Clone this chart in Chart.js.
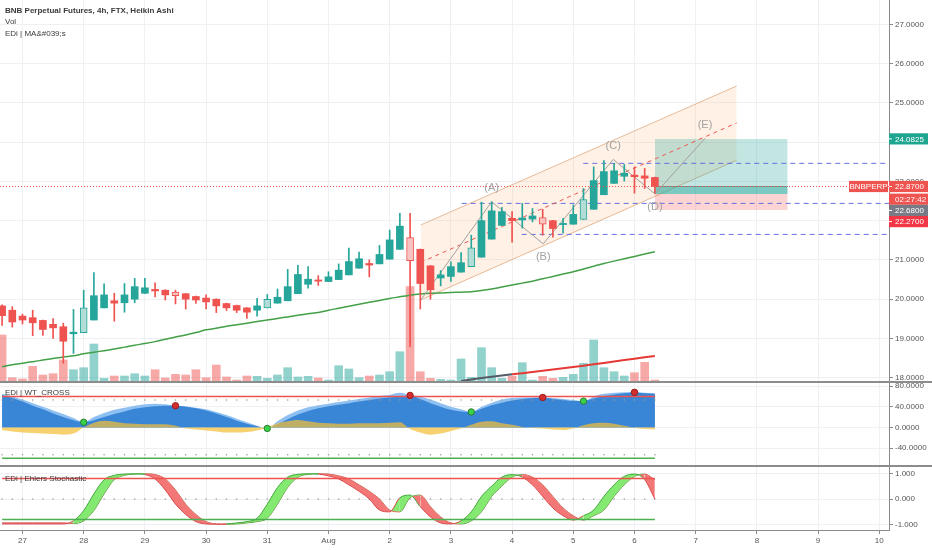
<!DOCTYPE html>
<html>
<head>
<meta charset="utf-8">
<script src="https://cdn.jsdelivr.net/npm/chart.js@4.4.0/dist/chart.umd.min.js"></script>
<style>
html,body{margin:0;padding:0;background:#fff;}
#wrap{position:relative;width:932px;height:550px;overflow:hidden;}
#c{position:absolute;left:0;top:0;}
.lbl{position:absolute;left:5px;font-family:'Liberation Sans',Arial,sans-serif;font-size:8px;color:#3a3a3a;white-space:nowrap;line-height:12px;}
</style>
</head>
<body>
<div id="wrap">
<canvas id="c" width="932" height="550" style="width:932px;height:550px"></canvas>
<div class="lbl" id="t1" style="top:5px;font-weight:bold;"></div>
<div class="lbl" id="t2" style="top:16px;"></div>
<div class="lbl" id="t3" style="top:28px;"></div>
<div class="lbl" id="t4" style="top:387px;"></div>
<div class="lbl" id="t5" style="top:473px;"></div>
</div>
<script>
// ---------- texts ----------
const legendTexts = ['BNB Perpetual Futures, 4h, FTX, Heikin Ashi', 'Vol', 'EDi | MA&#039;s', 'EDi | WT_CROSS', 'EDi | Ehlers Stochastic'];
const dayLabels = ['27','28','29','30','31','Aug','2','3','4','5','6','7','8','9','10'];

// ---------- candle timeline (4h candles, day 0 = Jul 27 00:00) ----------
const firstCandleDay = -2 / 6;
const barsPerDay = 6;
const viewStartDay = -0.3676;
const viewEndDay = 14.159;

// ---------- Heikin Ashi candles ----------
const openP  = [19.83,19.72,19.57,19.53,19.46,19.36,19.30,19.12,19.15,19.47,19.78,19.96,19.91,20.00,20.15,20.25,20.23,20.18,20.14,20.07,20.03,20.00,19.89,19.84,19.78,19.72,19.78,19.90,19.96,20.14,20.38,20.49,20.45,20.50,20.62,20.79,20.91,20.90,21.02,21.27,21.57,21.27,20.85,20.54,20.58,20.69,20.83,21.07,21.53,21.88,22.06,22.02,22.04,22.08,22.00,21.90,21.91,22.03,22.29,22.66,22.95,23.13,23.16,23.14,23.10];
const highP  = [19.86,19.81,19.62,19.72,19.47,19.51,19.39,19.74,20.23,20.68,20.39,20.15,20.40,20.53,20.53,20.42,20.24,20.23,20.15,20.08,20.11,20.01,19.90,19.85,19.79,20.02,20.12,20.26,20.76,20.86,20.83,20.60,20.70,20.90,21.30,21.20,21.00,21.37,21.76,22.19,22.19,21.28,20.86,20.73,20.95,21.19,21.63,22.47,22.48,22.34,22.23,22.44,22.31,22.29,22.01,22.06,22.40,22.82,23.37,23.53,23.46,23.43,23.37,23.33,23.11];
const lowP   = [19.33,19.29,19.37,19.07,19.08,19.00,18.37,18.62,19.15,19.47,19.78,19.44,19.67,19.91,20.15,20.06,19.98,19.88,19.75,19.89,19.75,19.66,19.71,19.66,19.51,19.57,19.78,19.90,19.96,20.14,20.28,20.35,20.45,20.50,20.62,20.79,20.57,20.90,21.02,21.27,18.79,19.75,20.00,20.34,20.45,20.69,20.83,21.07,21.53,21.88,21.45,21.81,21.97,21.63,21.58,21.68,21.91,22.03,22.29,22.66,22.95,23.01,22.70,22.82,22.70];
const closeP = [19.58,19.42,19.47,19.40,19.23,19.27,18.93,19.16,19.78,20.09,20.11,19.90,20.11,20.32,20.29,20.21,20.11,20.09,20.00,19.98,19.93,19.83,19.78,19.72,19.67,19.83,20.00,20.05,20.32,20.63,20.51,20.46,20.57,20.74,20.96,21.03,20.87,21.14,21.51,21.86,20.98,20.40,20.24,20.62,20.83,20.93,21.31,22.00,22.25,22.23,22.00,22.07,22.12,21.91,21.80,21.93,22.16,22.54,23.02,23.25,23.27,23.21,23.12,23.08,22.87];
const paleCandles = [8,17,26,40,46,53,57];

// ---------- volume (thousands) and its MA ----------
const volume = [46,3.3,2,14.7,6,7.3,21,11.3,13.3,37,2.7,5,5,7.3,5,11.3,3,6.7,6,11.3,3.3,16,4,1,5,4.7,2.7,6,13.3,4,4.7,3,1,15.3,12,3.3,5,6,9.3,29.3,94.3,9.3,2.7,1.7,1,22,3.7,33.3,13.3,2.7,5,18.3,1,4.7,2.7,3.7,6.7,17.7,41,13.3,9.3,5,8.3,18.7,1];
const volMAStart = 45;
const volMA = [0,1.5,3,4.3,5.5,6.7,7.8,9,10.3,11.5,12.8,14,15.3,16.7,18,19.5,21,22.3,23.7,25];

// ---------- EDi MA ----------
const maLine = [18.28,18.33,18.37,18.41,18.45,18.49,18.53,18.56,18.61,18.65,18.69,18.73,18.78,18.83,18.87,18.92,18.98,19.04,19.09,19.15,19.22,19.26,19.31,19.35,19.39,19.43,19.47,19.51,19.55,19.59,19.63,19.66,19.72,19.77,19.82,19.87,19.92,19.97,20.02,20.06,20.10,20.13,20.15,20.16,20.17,20.18,20.19,20.22,20.26,20.31,20.36,20.41,20.46,20.52,20.58,20.64,20.70,20.77,20.84,20.91,20.97,21.03,21.09,21.15,21.21];

// ---------- WT_CROSS ----------
const wtLight = [65,60,54,47,40,33,26,18,10,20,28,34,38,42,45,46,45,42,41,38,35,30,24,17,10,3,-2,12,24,33,39,43,46,49,52,55,58,61,63,67,62,60,54,47,40,35,30,40,48,54,57,58,58,58,57,55,53,51,60,65,67,68,68,67,66];
const wtDark  = [63,57,50,42,35,27,20,14,10,14,20,26,31,36,39,41,42,42,40,37,33,27,20,13,7,2,-2,6,16,25,32,37,41,44,47,50,53,56,58,60,62,55,47,40,34,31,30,36,43,48,52,55,57,58,55,53,51,51,56,61,64,66,68,66,65];
const wtMom   = [-5,-8,-10,-11,-12,-13,-14,-12,0,9,13,11,8,7,6,6,6,3,-2,-4,-6,-8,-10,-10,-9,-6,0,8,12,14.5,12,9,8,7,7,8,8,8,9,10,-3,-10,-14,-12,-7,-2,5,11,12,8,5,1,-1,-2,-4,-5,-2,4,8,9,7,3,-1,-3,-4];
const crossUp = [8,26,46,57];
const crossDown = [17,40,53,62];
const wtLevels = {ob: 60, obDots: 53, osDots: -53, os: -60};

// ---------- Ehlers Stochastic ----------
const stFast = [-0.97,-0.97,-0.97,-0.97,-0.97,-0.97,-0.97,-0.85,-0.45,0.2,0.75,0.92,0.97,0.98,0.95,0.78,0.35,-0.2,-0.6,-0.88,-0.97,-0.98,-0.97,-0.93,-0.88,-0.75,-0.2,0.45,0.85,0.96,0.98,0.97,0.9,0.78,0.55,0.3,0.0,-0.43,-0.5,0.05,0.15,-0.3,-0.7,-0.93,-0.97,-0.85,-0.5,0.1,0.5,0.85,0.95,0.85,0.55,0.1,-0.35,-0.65,-0.82,-0.65,-0.43,0.1,0.55,0.88,0.97,0.75,0.0];
const stSlow = [-0.93,-0.93,-0.93,-0.93,-0.93,-0.93,-0.93,-0.95,-0.85,-0.45,0.2,0.75,0.92,0.97,0.98,0.95,0.78,0.35,-0.2,-0.6,-0.88,-0.97,-0.98,-0.97,-0.93,-0.88,-0.75,-0.2,0.45,0.85,0.96,0.98,0.97,0.9,0.78,0.55,0.3,0.0,-0.43,-0.5,0.05,0.15,-0.3,-0.7,-0.93,-0.97,-0.85,-0.5,0.1,0.5,0.85,0.95,0.85,0.55,0.1,-0.35,-0.65,-0.82,-0.65,-0.43,0.1,0.55,0.88,0.97,0.75];
const stLevels = {upper: 0.8, mid: 0, lower: -0.8};

// ---------- drawings (day, price) ----------
const channelDays = [6.507, 11.67];
const channelTop = [21.89, 25.43];
const channelBottom = [19.98, 23.54];
const channelMid = [20.94, 24.49];
const waveNames = ['', '(A)', '(B)', '(C)', '(D)', '(E)'];
const waveDays = [6.507, 7.667, 8.51, 9.653, 10.335, 11.153];
const wavePrices = [19.98, 22.48, 21.41, 23.56, 22.68, 24.10];
const levelPrices = [23.46, 22.44, 21.65];
const levelStartDays = [9.163, 7.176, 8.157];
const positionDays = [10.335, 12.503];
const positionTarget = 24.0825, positionEntry = 22.68, positionStop = 22.27;
const priceTicks = [18,19,20,21,22,23,24,25,26,27];
const wtTicks = [-40,0,40,80];
const stTicks = [-1,0,1];
const priceTags = [
  {value: 24.0825, text: '24.0825', kind: 'target'},
  {value: 22.87, text: '22.8700', kind: 'last', symbol: 'BNBPERP', countdown: '02:27:42'},
  {value: 22.68, text: '22.6800', kind: 'entry'},
  {value: 22.27, text: '22.2700', kind: 'stop'}
];

// ---------- build ----------
['t1','t2','t3','t4','t5'].forEach((id, k) => { document.getElementById(id).textContent = legendTexts[k]; });

const N = closeP.length;
const xs = closeP.map((_, i) => firstCandleDay + i / barsPerDay);
const GREEN = '#26a69a', RED = '#ef5350';
const up = i => closeP[i] >= openP[i];
const pale = new Set(paleCandles);
const bodyFill = xs.map((_, i) => pale.has(i) ? (up(i) ? '#b2ddd7' : '#f8c3c2') : (up(i) ? GREEN : RED));
const bodyEdge = xs.map((_, i) => up(i) ? GREEN : RED);
const bodyBorderW = xs.map((_, i) => pale.has(i) ? 1 : 0);
const volFill = xs.map((_, i) => up(i) ? 'rgba(38,166,154,0.5)' : 'rgba(239,83,80,0.5)');

const pts = arr => arr.map((v, i) => ({x: xs[i], y: v}));
const seg2 = (days, vals) => [{x: days[0], y: vals[0]}, {x: days[1], y: vals[1]}];
const lastIdx = N - 1;
const flat = v => [{x: xs[0], y: v}, {x: xs[lastIdx], y: v}];
const dots = v => xs.map(x => ({x, y: v}));

const line = (o) => Object.assign({type: 'line', pointRadius: 0, borderWidth: 1, fill: false, tension: 0}, o);

const datasets = [];
const add = d => { datasets.push(d); return datasets.length - 1; };

// price pane
add({type: 'bar', yAxisID: 'y', order: 1, grouped: false, barThickness: 7, minBarLength: 1,
  data: xs.map((x, i) => ({x, y: [Math.min(openP[i], closeP[i]), Math.max(openP[i], closeP[i])]})),
  backgroundColor: bodyFill, borderColor: bodyEdge, borderWidth: bodyBorderW, borderSkipped: false});
add({type: 'bar', yAxisID: 'y', order: 2, grouped: false, barThickness: 1,
  data: xs.map((x, i) => ({x, y: [lowP[i], highP[i]]})), backgroundColor: bodyEdge});
add(line({yAxisID: 'y', order: 6, data: pts(maLine), borderColor: '#43a047', borderWidth: 1.5, cubicInterpolationMode: 'monotone'}));
add({type: 'bar', yAxisID: 'vol', order: 9, grouped: false, barThickness: 8,
  data: xs.map((x, i) => ({x, y: volume[i]})), backgroundColor: volFill});
add(line({yAxisID: 'vol', order: 7, data: volMA.map((v, k) => ({x: xs[volMAStart + k], y: v})), borderWidth: 2,
  segment: {borderColor: ctx => (ctx.p0DataIndex < 5 ? '#555b66' : '#e53935')}}));
const chTop = add(line({yAxisID: 'y', order: 12, data: seg2(channelDays, channelTop), borderColor: 'rgba(222,170,130,0.8)'}));
add(line({yAxisID: 'y', order: 12, data: seg2(channelDays, channelBottom), borderColor: 'rgba(222,170,130,0.8)'}));
datasets[chTop].fill = {target: chTop + 1};
datasets[chTop].backgroundColor = 'rgba(255,160,80,0.15)';
add(line({yAxisID: 'y', order: 4, data: seg2(channelDays, channelMid), borderColor: '#ef5350', borderDash: [4, 4]}));
add(line({yAxisID: 'y', order: 3, data: waveDays.map((d, k) => ({x: d, y: wavePrices[k]})), borderColor: '#a0a0a0'}));
levelPrices.forEach((p, k) => add(line({yAxisID: 'y', order: 4, data: [{x: levelStartDays[k], y: p}, {x: viewEndDay, y: p}], borderColor: '#6470e0', borderDash: [5, 4]})));
const posT = add(line({yAxisID: 'y', order: 10, data: seg2(positionDays, [positionTarget, positionTarget]), borderWidth: 0}));
const posE = add(line({yAxisID: 'y', order: 10, data: seg2(positionDays, [positionEntry, positionEntry]), borderWidth: 0}));
const posS = add(line({yAxisID: 'y', order: 10, data: seg2(positionDays, [positionStop, positionStop]), borderWidth: 0}));
const posC = add(line({yAxisID: 'y', order: 10, data: seg2(positionDays, [closeP[lastIdx], closeP[lastIdx]]), borderWidth: 1, borderColor: 'rgba(120,120,120,0.8)'}));
datasets[posT].fill = {target: posE}; datasets[posT].backgroundColor = 'rgba(38,166,154,0.28)';
datasets[posE].fill = {target: posS}; datasets[posE].backgroundColor = 'rgba(239,83,80,0.25)';
datasets[posC].fill = {target: posE}; datasets[posC].backgroundColor = 'rgba(38,166,154,0.45)';
add(line({yAxisID: 'y', order: 0, data: [{x: viewStartDay, y: closeP[lastIdx]}, {x: viewEndDay, y: closeP[lastIdx]}], borderColor: '#ef5350', borderDash: [1, 2]}));

// WT pane
add(line({yAxisID: 'wt', order: 22, data: pts(wtLight), borderWidth: 0, fill: 'origin', backgroundColor: '#8fc0f2', cubicInterpolationMode: 'monotone'}));
add(line({yAxisID: 'wt', order: 21, data: pts(wtDark), borderWidth: 0, fill: 'origin', backgroundColor: '#3a86d6', cubicInterpolationMode: 'monotone'}));
add(line({yAxisID: 'wt', order: 20, data: pts(wtMom), borderWidth: 0, fill: 'origin', backgroundColor: 'rgba(244,190,55,0.72)', cubicInterpolationMode: 'monotone'}));
add(line({yAxisID: 'wt', order: 15, data: flat(wtLevels.ob), borderColor: '#ef5350', borderWidth: 1.5}));
add(line({yAxisID: 'wt', order: 15, data: flat(wtLevels.os), borderColor: '#4caf50', borderWidth: 1.5}));
add(line({yAxisID: 'wt', order: 16, data: dots(wtLevels.obDots), showLine: false, pointRadius: 0.8, pointBorderWidth: 0, pointBackgroundColor: '#9a9a9a'}));
add(line({yAxisID: 'wt', order: 16, data: dots(wtLevels.osDots), showLine: false, pointRadius: 0.8, pointBorderWidth: 0, pointBackgroundColor: '#9a9a9a'}));
add(line({yAxisID: 'wt', order: 14, data: crossUp.map(i => ({x: xs[i], y: wtDark[i]})), showLine: false, pointRadius: 3.2, pointBackgroundColor: '#39d04a', pointBorderColor: '#2e7d32', pointBorderWidth: 1}));
add(line({yAxisID: 'wt', order: 14, data: crossDown.map(i => ({x: xs[i], y: wtDark[i]})), showLine: false, pointRadius: 3.2, pointBackgroundColor: '#d32f2f', pointBorderColor: '#9a1b1b', pointBorderWidth: 1}));

// Stochastic pane
const segCol = ctx => (stFast[ctx.p0DataIndex] >= stSlow[ctx.p0DataIndex] ? '#3fa83a' : '#d94a4a');
const sf = add(line({yAxisID: 'st', order: 30, data: pts(stFast), cubicInterpolationMode: 'monotone', segment: {borderColor: segCol}}));
add(line({yAxisID: 'st', order: 30, data: pts(stSlow), cubicInterpolationMode: 'monotone', segment: {borderColor: segCol}}));
datasets[sf].fill = {target: sf + 1, above: 'rgba(125,232,105,0.95)', below: 'rgba(242,112,112,0.95)'};
add(line({yAxisID: 'st', order: 29, data: flat(stLevels.upper), borderColor: '#ef5350', borderWidth: 1.5}));
add(line({yAxisID: 'st', order: 29, data: flat(stLevels.lower), borderColor: '#4caf50', borderWidth: 1.5}));
add(line({yAxisID: 'st', order: 31, data: dots(stLevels.mid), showLine: false, pointRadius: 0.8, pointBorderWidth: 0, pointBackgroundColor: '#9a9a9a'}));

// ---------- plugin: separators, wave labels, price tags ----------
const overlay = {
  id: 'overlay',
  afterDatasetsDraw(chart) {
    const c = chart.ctx, y = chart.scales.y, x = chart.scales.x;
    c.save();
    c.font = "11px 'Liberation Sans', Arial, sans-serif";
    c.fillStyle = '#a3a3a3';
    c.textAlign = 'center'; c.textBaseline = 'middle';
    waveNames.forEach((t, k) => {
      if (!t) return;
      const px = x.getPixelForValue(waveDays[k]);
      const py = y.getPixelForValue(wavePrices[k]);
      const dir = (k % 2 === 1) ? -1 : 1;
      c.fillText(t, px, py + dir * 13.5);
    });
    c.restore();
  },
  afterDraw(chart) {
    const c = chart.ctx, y = chart.scales.y;
    const W = chart.width;
    c.save();
    c.strokeStyle = '#8c8c8c'; c.lineWidth = 2;
    ['wt', 'st'].forEach(id => {
      const t = Math.round(chart.scales[id].top);
      c.beginPath(); c.moveTo(0, t); c.lineTo(W, t); c.stroke();
    });
    // tags
    const colors = {target: '#1ea58f', last: '#ef5350', entry: '#787b86', stop: '#f23645'};
    const ax = chart.scales.y.left;
    const h = 11.2, w = 39;
    c.font = "8px 'Liberation Sans', Arial, sans-serif";
    c.textBaseline = 'middle';
    let prevBottom = -1e9;
    const sorted = priceTags.slice().sort((a, b) => b.value - a.value);
    sorted.forEach(tag => {
      let top = Math.max(y.getPixelForValue(tag.value) - h / 2, prevBottom);
      const col = colors[tag.kind];
      c.fillStyle = col; c.fillRect(ax, top, w, h);
      c.fillStyle = '#fff'; c.textAlign = 'left';
      c.fillText(tag.text, ax + 6, top + h / 2 + 0.5);
      c.strokeStyle = '#ffffff'; c.lineWidth = 1;
      c.beginPath(); c.moveTo(ax, top + h / 2); c.lineTo(ax + 3, top + h / 2); c.stroke();
      if (tag.symbol) {
        c.fillStyle = col; c.fillRect(ax - 40, top, 39, h);
        c.fillStyle = '#fff'; c.textAlign = 'center';
        c.fillText(tag.symbol, ax - 20.5, top + h / 2 + 0.5);
      }
      prevBottom = top + h;
      if (tag.countdown) {
        const t2 = prevBottom + 1.5;
        c.fillStyle = col; c.fillRect(ax, t2, w, h);
        c.fillStyle = '#fff'; c.textAlign = 'left';
        c.fillText(tag.countdown, ax + 6, t2 + h / 2 + 0.5);
        prevBottom = t2 + h;
      }
    });
    c.restore();
  }
};

Chart.defaults.font.family = "'Liberation Sans', Arial, sans-serif";
Chart.defaults.font.size = 8;
Chart.defaults.color = '#555';

const noPad = s => { s.paddingTop = 0; s.paddingBottom = 0; s.paddingLeft = 0; s.paddingRight = 0; };

const yAxis = (o) => Object.assign({
  type: 'linear', position: 'right', stack: 'panes',
  grid: {color: '#eef0f4', tickLength: 4, tickColor: '#8a8a8a'},
  border: {color: '#8a8a8a', width: 1},
  afterFit: s => { s.width = 43; noPad(s); }
}, o);

new Chart(document.getElementById('c'), {
  type: 'line',
  data: {datasets},
  plugins: [overlay],
  options: {
    responsive: false,
    animation: false,
    parsing: true,
    layout: {padding: 0, autoPadding: false},
    plugins: {legend: {display: false}, tooltip: {enabled: false}},
    scales: {
      x: {
        type: 'linear', min: viewStartDay, max: viewEndDay, offset: false,
        grid: {offset: false, color: '#eef0f4', tickLength: 4, tickColor: '#8a8a8a'},
        border: {color: '#8a8a8a'},
        afterBuildTicks: s => { s.ticks = dayLabels.map((_, i) => ({value: i})); },
        ticks: {autoSkip: false, maxRotation: 0, padding: 2, color: '#555', callback: v => dayLabels[v]},
        afterFit: s => { s.height = 20; noPad(s); }
      },
      y: yAxis({stackWeight: 382, min: 17.892, max: 27.619,
        afterBuildTicks: s => { s.ticks = priceTicks.map(v => ({value: v})); },
        ticks: {padding: 2, callback: v => Number(v).toFixed(4)}}),
      wt: yAxis({stackWeight: 84, min: -74.8, max: 88,
        afterBuildTicks: s => { s.ticks = wtTicks.map(v => ({value: v})); },
        ticks: {padding: 2, callback: v => Number(v).toFixed(4)}}),
      st: yAxis({stackWeight: 64, min: -1.206, max: 1.284,
        afterBuildTicks: s => { s.ticks = stTicks.map(v => ({value: v})); },
        ticks: {padding: 2, callback: v => Number(v).toFixed(3)}}),
      vol: {type: 'linear', display: false, min: -149, max: 381, afterFit: s => { s.width = 0; noPad(s); }}
    }
  }
});
</script>
</body>
</html>
